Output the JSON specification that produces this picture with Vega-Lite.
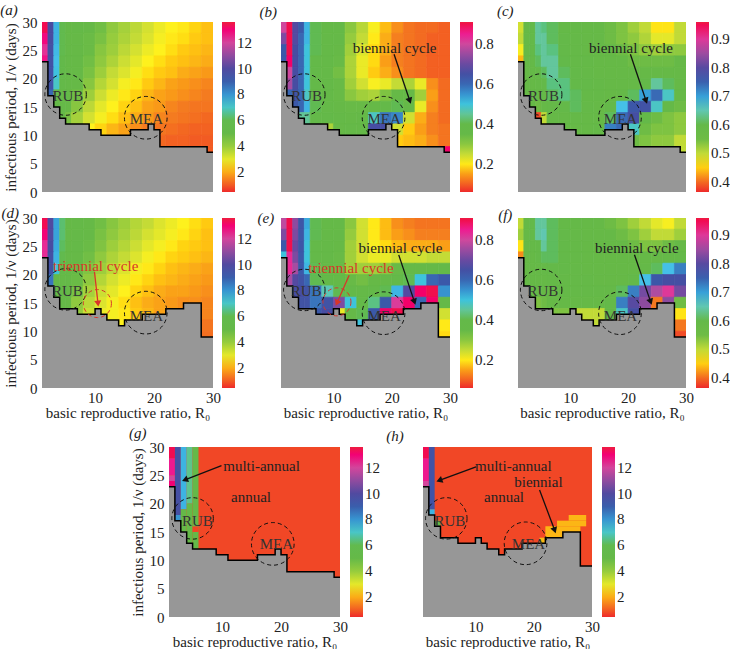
{"$schema":"https://vega.github.io/schema/vega-lite/v6.json","padding":{"top":3,"left":0,"right":0,"bottom":0},"background":"white",
"config":{"font":"Liberation Serif","view":{"stroke":null},"axis":{"ticks":false,"domain":false,"grid":false,"labelFont":"Liberation Serif","labelFontSize":15,"titleFont":"Liberation Serif","titleFontSize":15,"titleFontWeight":"normal","labelColor":"#222","titleColor":"#222","labelFlush":false,"labelOverlap":false,"labelBound":false,"labelPadding":5},"axisX":{"labelPadding":2,"titlePadding":0},"legend":{"labelFont":"Liberation Serif","labelFontSize":15,"labelColor":"#222"}},
"datasets":{
"bd1":[{"x":1,"y":23},{"x":2,"y":17},{"x":3,"y":15},{"x":4,"y":13},{"x":5,"y":12},{"x":9,"y":11},{"x":11,"y":10},{"x":16,"y":11},{"x":19,"y":12},{"x":20,"y":11},{"x":21,"y":8},{"x":29,"y":7},{"x":30,"y":7}],
"bd2":[{"x":1,"y":23},{"x":2,"y":18},{"x":3,"y":16},{"x":4,"y":14},{"x":7,"y":13},{"x":10,"y":14},{"x":11,"y":13},{"x":12,"y":12},{"x":14,"y":11},{"x":15,"y":12},{"x":18,"y":13},{"x":22,"y":14},{"x":25,"y":15},{"x":28,"y":9},{"x":30,"y":9}],
"g":[{"x":1,"e":30,"y":0,"t":30,"v":0.75},{"x":1,"e":2,"y":28,"t":30,"v":13.4},{"x":1,"e":2,"y":25,"t":28,"v":12.7},{"x":1,"e":2,"y":24,"t":25,"v":12},{"x":1,"e":2,"y":23,"t":24,"v":13},{"x":2,"e":3,"y":18,"t":30,"v":9.6},{"x":2,"e":3,"y":17,"t":18,"v":8},{"x":3,"e":4,"y":19,"t":30,"v":7.6},{"x":3,"e":4,"y":13,"t":19,"v":5},{"x":4,"e":5,"y":20,"t":30,"v":6.4},{"x":4,"e":5,"y":12,"t":20,"v":5},{"x":5,"e":6,"y":12,"t":30,"v":5},{"x":5,"e":6,"y":15,"t":16,"v":0.75}],
"h":[{"x":1,"e":30,"y":0,"t":30,"v":0.75},{"x":1,"e":2,"y":28,"t":30,"v":13.4},{"x":1,"e":2,"y":24,"t":28,"v":12.7},{"x":1,"e":2,"y":23,"t":24,"v":12},{"x":2,"e":3,"y":19,"t":30,"v":9.4},{"x":2,"e":3,"y":18,"t":19,"v":7.6},{"x":3,"e":4,"y":16,"t":17,"v":5},{"x":26,"e":29,"y":17,"t":18,"v":2.1},{"x":24,"e":29,"y":16,"t":17,"v":2.1},{"x":22,"e":28,"y":15,"t":16,"v":2.1},{"x":22,"e":25,"y":14,"t":15,"v":2.1},{"x":21,"e":22,"y":13,"t":14,"v":2.1}],
"ci":[{"p":"a","x":5,"y":17.2,"s":1720,"c":"#111"},{"p":"a","x":18.6,"y":13.1,"s":1820,"c":"#111"},{"p":"b","x":5,"y":17.2,"s":1720,"c":"#111"},{"p":"b","x":18.6,"y":13.1,"s":1820,"c":"#111"},{"p":"c","x":5,"y":17.2,"s":1720,"c":"#111"},{"p":"c","x":18.6,"y":13.1,"s":1820,"c":"#111"},{"p":"d","x":5,"y":17.4,"s":1720,"c":"#111"},{"p":"d","x":18.6,"y":13.3,"s":1820,"c":"#111"},{"p":"d","x":10.4,"y":14.9,"s":784,"c":"#d8352a"},{"p":"e","x":5,"y":17.3,"s":1720,"c":"#111"},{"p":"e","x":18.6,"y":13.2,"s":1820,"c":"#111"},{"p":"e","x":10.6,"y":15.2,"s":784,"c":"#d8352a"},{"p":"f","x":5,"y":17.3,"s":1720,"c":"#111"},{"p":"f","x":18.6,"y":13.2,"s":1820,"c":"#111"},{"p":"g","x":5,"y":17.4,"s":1720,"c":"#111"},{"p":"g","x":18.6,"y":12.9,"s":1820,"c":"#111"},{"p":"h","x":5,"y":17.4,"s":1720,"c":"#111"},{"p":"h","x":18.6,"y":13,"s":1820,"c":"#111"}],
"tx":[{"p":"a","x":5.4,"y":16.9,"t":"RUB","c":"#333"},{"p":"a","x":18.7,"y":12.8,"t":"MEA","c":"#333"},{"p":"b","x":5.4,"y":16.9,"t":"RUB","c":"#333"},{"p":"b","x":18.7,"y":12.8,"t":"MEA","c":"#333"},{"p":"b","x":20.5,"y":25.5,"t":"biennial cycle","c":"#222"},{"p":"c","x":5.4,"y":16.9,"t":"RUB","c":"#333"},{"p":"c","x":18.7,"y":12.8,"t":"MEA","c":"#333"},{"p":"c","x":20.5,"y":25.5,"t":"biennial cycle","c":"#222"},{"p":"d","x":5.3,"y":17.2,"t":"RUB","c":"#333"},{"p":"d","x":18.7,"y":12.7,"t":"MEA","c":"#333"},{"p":"d","x":10.1,"y":21.6,"t":"triennial cycle","c":"#d8352a"},{"p":"e","x":5.3,"y":17.2,"t":"RUB","c":"#333"},{"p":"e","x":18.7,"y":12.7,"t":"MEA","c":"#333"},{"p":"e","x":13,"y":21.2,"t":"triennial cycle","c":"#d8352a"},{"p":"e","x":21.5,"y":24.7,"t":"biennial cycle","c":"#222"},{"p":"f","x":5.3,"y":17.2,"t":"RUB","c":"#333"},{"p":"f","x":18.7,"y":12.7,"t":"MEA","c":"#333"},{"p":"f","x":21.5,"y":24.7,"t":"biennial cycle","c":"#222"},{"p":"g","x":5.8,"y":17,"t":"RUB","c":"#333"},{"p":"g","x":19.2,"y":12.8,"t":"MEA","c":"#333"},{"p":"g","x":16.7,"y":26.7,"t":"multi-annual","c":"#222"},{"p":"g","x":14.9,"y":21.2,"t":"annual","c":"#222"},{"p":"h","x":5.6,"y":17,"t":"RUB","c":"#333"},{"p":"h","x":19.1,"y":12.8,"t":"MEA","c":"#333"},{"p":"h","x":16.5,"y":26.6,"t":"multi-annual","c":"#222"},{"p":"h","x":14.9,"y":21.2,"t":"annual","c":"#222"},{"p":"h","x":20.8,"y":23.8,"t":"biennial","c":"#222"}],
"le":[{"p":"a","x":-4.6,"y":32.1,"t":"(a)"},{"p":"b","x":-1.2,"y":31.7,"t":"(b)"},{"p":"c","x":-1.2,"y":31.9,"t":"(c)"},{"p":"d","x":-4.4,"y":30.87,"t":"(d)"},{"p":"e","x":-1.6,"y":30,"t":"(e)"},{"p":"f","x":-1.2,"y":30.5,"t":"(f)"},{"p":"g","x":-4.3,"y":32.46,"t":"(g)"},{"p":"h","x":-3.8,"y":31.9,"t":"(h)"}],
"ar":[{"p":"b","x":20.4,"y":24.3,"xe":23.1,"ye":16.1,"c":"#111"},{"p":"c","x":20.4,"y":24.3,"xe":23.1,"ye":16.1,"c":"#111"},{"p":"d","x":9.9,"y":20.5,"xe":10.5,"ye":14.9,"c":"#d8352a"},{"p":"e","x":12.7,"y":19.9,"xe":10.6,"ye":15,"c":"#d8352a"},{"p":"e","x":21.2,"y":23.5,"xe":23.9,"ye":15.2,"c":"#111"},{"p":"f","x":21.1,"y":23.5,"xe":23.9,"ye":15.2,"c":"#111"},{"p":"g","x":9.9,"y":26.7,"xe":3.7,"ye":24.2,"c":"#111"},{"p":"h","x":10.1,"y":26.5,"xe":3.8,"ye":24.1,"c":"#111"},{"p":"h","x":21,"y":22.4,"xe":23.6,"ye":15.3,"c":"#111"}],
"hd":[{"p":"b","x":23.1,"y":16.1,"a":161,"c":"#111"},{"p":"c","x":23.1,"y":16.1,"a":161,"c":"#111"},{"p":"d","x":10.5,"y":14.9,"a":174,"c":"#d8352a"},{"p":"e","x":10.6,"y":15,"a":204,"c":"#d8352a"},{"p":"e","x":23.9,"y":15.2,"a":161,"c":"#111"},{"p":"f","x":23.9,"y":15.2,"a":161,"c":"#111"},{"p":"g","x":3.7,"y":24.2,"a":249,"c":"#111"},{"p":"h","x":3.8,"y":24.1,"a":250,"c":"#111"},{"p":"h","x":23.6,"y":15.3,"a":161,"c":"#111"}],
"ca":[{"x":1,"e":2,"y":29,"v":13.4},{"x":2,"e":3,"y":29,"v":9.8},{"x":3,"e":4,"y":29,"v":7.6},{"x":4,"e":5,"y":29,"v":6},{"x":5,"e":6,"y":29,"v":5.2},{"x":6,"e":8,"y":29,"v":4.9},{"x":8,"e":10,"y":29,"v":4.7},{"x":10,"e":12,"y":29,"v":4.5},{"x":12,"e":14,"y":29,"v":4.1},{"x":14,"e":16,"y":29,"v":3.8},{"x":16,"e":18,"y":29,"v":3.5},{"x":18,"e":20,"y":29,"v":3.2},{"x":20,"e":22,"y":29,"v":2.9},{"x":22,"e":24,"y":29,"v":2.7},{"x":24,"e":26,"y":29,"v":2.6},{"x":26,"e":28,"y":29,"v":2.4},{"x":28,"e":30,"y":29,"v":2.2},
{"x":1,"e":2,"y":27,"v":12.9},{"x":2,"e":3,"y":27,"v":9.8},{"x":3,"e":4,"y":27,"v":7.6},{"x":4,"e":5,"y":27,"v":6},{"x":5,"e":6,"y":27,"v":5.1},{"x":6,"e":8,"y":27,"v":4.8},{"x":8,"e":10,"y":27,"v":4.6},{"x":10,"e":12,"y":27,"v":4.4},{"x":12,"e":14,"y":27,"v":4},{"x":14,"e":16,"y":27,"v":3.7},{"x":16,"e":18,"y":27,"v":3.4},{"x":18,"e":20,"y":27,"v":3.1},{"x":20,"e":22,"y":27,"v":2.8},{"x":22,"e":24,"y":27,"v":2.6},{"x":24,"e":26,"y":27,"v":2.5},{"x":26,"e":28,"y":27,"v":2.3},{"x":28,"e":30,"y":27,"v":2.2},
{"x":1,"e":2,"y":25,"v":12.4},{"x":2,"e":3,"y":25,"v":9.6},{"x":3,"e":4,"y":25,"v":7.5},{"x":4,"e":5,"y":25,"v":6},{"x":5,"e":6,"y":25,"v":5.1},{"x":6,"e":8,"y":25,"v":4.8},{"x":8,"e":10,"y":25,"v":4.6},{"x":10,"e":12,"y":25,"v":4.2},{"x":12,"e":14,"y":25,"v":3.9},{"x":14,"e":16,"y":25,"v":3.5},{"x":16,"e":18,"y":25,"v":3.2},{"x":18,"e":20,"y":25,"v":2.9},{"x":20,"e":22,"y":25,"v":2.7},{"x":22,"e":24,"y":25,"v":2.5},{"x":24,"e":26,"y":25,"v":2.3},{"x":26,"e":28,"y":25,"v":2.2},{"x":28,"e":30,"y":25,"v":2.1},
{"x":1,"e":2,"y":23,"v":12.8},{"x":2,"e":3,"y":23,"v":9.5},{"x":3,"e":4,"y":23,"v":7.4},{"x":4,"e":5,"y":23,"v":5.9},{"x":5,"e":6,"y":23,"v":5},{"x":6,"e":8,"y":23,"v":4.8},{"x":8,"e":10,"y":23,"v":4.5},{"x":10,"e":12,"y":23,"v":4.1},{"x":12,"e":14,"y":23,"v":3.7},{"x":14,"e":16,"y":23,"v":3.3},{"x":16,"e":18,"y":23,"v":3},{"x":18,"e":20,"y":23,"v":2.7},{"x":20,"e":22,"y":23,"v":2.5},{"x":22,"e":24,"y":23,"v":2.3},{"x":24,"e":26,"y":23,"v":2.2},{"x":26,"e":28,"y":23,"v":2.1},{"x":28,"e":30,"y":23,"v":2},
{"x":2,"e":3,"y":21,"v":9.5},{"x":3,"e":4,"y":21,"v":7.3},{"x":4,"e":5,"y":21,"v":5.8},{"x":5,"e":6,"y":21,"v":5},{"x":6,"e":8,"y":21,"v":4.7},{"x":8,"e":10,"y":21,"v":4.4},{"x":10,"e":12,"y":21,"v":3.9},{"x":12,"e":14,"y":21,"v":3.4},{"x":14,"e":16,"y":21,"v":3.1},{"x":16,"e":18,"y":21,"v":2.8},{"x":18,"e":20,"y":21,"v":2.5},{"x":20,"e":22,"y":21,"v":2.3},{"x":22,"e":24,"y":21,"v":2.2},{"x":24,"e":26,"y":21,"v":2},{"x":26,"e":28,"y":21,"v":1.9},{"x":28,"e":30,"y":21,"v":1.8},
{"x":2,"e":3,"y":19,"v":9.4},{"x":3,"e":4,"y":19,"v":7},{"x":4,"e":5,"y":19,"v":5.5},{"x":5,"e":6,"y":19,"v":5},{"x":6,"e":8,"y":19,"v":4.7},{"x":8,"e":10,"y":19,"v":4.2},{"x":10,"e":12,"y":19,"v":3.6},{"x":12,"e":14,"y":19,"v":3.2},{"x":14,"e":16,"y":19,"v":2.8},{"x":16,"e":18,"y":19,"v":2.6},{"x":18,"e":20,"y":19,"v":2.3},{"x":20,"e":22,"y":19,"v":2.1},{"x":22,"e":24,"y":19,"v":1.9},{"x":24,"e":26,"y":19,"v":1.8},{"x":26,"e":28,"y":19,"v":1.7},{"x":28,"e":30,"y":19,"v":1.6},
{"x":2,"e":3,"y":17,"v":8.8},{"x":3,"e":4,"y":17,"v":5},{"x":4,"e":5,"y":17,"v":5},{"x":5,"e":6,"y":17,"v":4.9},{"x":6,"e":8,"y":17,"v":4.5},{"x":8,"e":10,"y":17,"v":3.9},{"x":10,"e":12,"y":17,"v":3.3},{"x":12,"e":14,"y":17,"v":2.9},{"x":14,"e":16,"y":17,"v":2.6},{"x":16,"e":18,"y":17,"v":2.4},{"x":18,"e":20,"y":17,"v":2.1},{"x":20,"e":22,"y":17,"v":1.9},{"x":22,"e":24,"y":17,"v":1.8},{"x":24,"e":26,"y":17,"v":1.7},{"x":26,"e":28,"y":17,"v":1.6},{"x":28,"e":30,"y":17,"v":1.5},
{"x":3,"e":4,"y":15,"v":5},{"x":4,"e":5,"y":15,"v":5},{"x":5,"e":6,"y":15,"v":4.8},{"x":6,"e":8,"y":15,"v":4.2},{"x":8,"e":10,"y":15,"v":3.5},{"x":10,"e":12,"y":15,"v":3},{"x":12,"e":14,"y":15,"v":2.7},{"x":14,"e":16,"y":15,"v":2.4},{"x":16,"e":18,"y":15,"v":2.2},{"x":18,"e":20,"y":15,"v":1.9},{"x":20,"e":22,"y":15,"v":1.8},{"x":22,"e":24,"y":15,"v":1.6},{"x":24,"e":26,"y":15,"v":1.5},{"x":26,"e":28,"y":15,"v":1.4},{"x":28,"e":30,"y":15,"v":1.4},
{"x":4,"e":5,"y":13,"v":4.9},{"x":5,"e":6,"y":13,"v":4.4},{"x":6,"e":8,"y":13,"v":3.8},{"x":8,"e":10,"y":13,"v":3.2},{"x":10,"e":12,"y":13,"v":2.8},{"x":12,"e":14,"y":13,"v":2.5},{"x":14,"e":16,"y":13,"v":2.2},{"x":16,"e":18,"y":13,"v":2},{"x":18,"e":20,"y":13,"v":1.8},{"x":20,"e":22,"y":13,"v":1.6},{"x":22,"e":24,"y":13,"v":1.5},{"x":24,"e":26,"y":13,"v":1.4},{"x":26,"e":28,"y":13,"v":1.3},{"x":28,"e":30,"y":13,"v":1.2},
{"x":8,"e":10,"y":11,"v":2.7},{"x":10,"e":12,"y":11,"v":2.4},{"x":12,"e":14,"y":11,"v":2.1},{"x":14,"e":16,"y":11,"v":1.9},{"x":16,"e":18,"y":11,"v":1.7},{"x":18,"e":20,"y":11,"v":1.5},{"x":20,"e":22,"y":11,"v":1.4},{"x":22,"e":24,"y":11,"v":1.3},{"x":24,"e":26,"y":11,"v":1.2},{"x":26,"e":28,"y":11,"v":1.1},{"x":28,"e":30,"y":11,"v":1.1},
{"x":20,"e":22,"y":9,"v":1.2},{"x":22,"e":24,"y":9,"v":1.1},{"x":24,"e":26,"y":9,"v":1.1},{"x":26,"e":28,"y":9,"v":1},{"x":28,"e":30,"y":9,"v":1},{"x":28,"e":30,"y":7,"v":1}],
"cd":[{"x":1,"e":2,"y":29,"v":13.4},{"x":2,"e":3,"y":29,"v":10},{"x":3,"e":4,"y":29,"v":7.8},{"x":4,"e":5,"y":29,"v":6.2},{"x":5,"e":6,"y":29,"v":5.2},{"x":6,"e":8,"y":29,"v":4.9},{"x":8,"e":10,"y":29,"v":4.7},{"x":10,"e":12,"y":29,"v":4.5},{"x":12,"e":14,"y":29,"v":4.2},{"x":14,"e":16,"y":29,"v":3.9},{"x":16,"e":18,"y":29,"v":3.6},{"x":18,"e":20,"y":29,"v":3.4},{"x":20,"e":22,"y":29,"v":3.1},{"x":22,"e":24,"y":29,"v":2.9},{"x":24,"e":26,"y":29,"v":2.7},{"x":26,"e":28,"y":29,"v":2.5},{"x":28,"e":30,"y":29,"v":2.3},
{"x":1,"e":2,"y":27,"v":13},{"x":2,"e":3,"y":27,"v":10},{"x":3,"e":4,"y":27,"v":7.8},{"x":4,"e":5,"y":27,"v":6.2},{"x":5,"e":6,"y":27,"v":5.2},{"x":6,"e":8,"y":27,"v":4.9},{"x":8,"e":10,"y":27,"v":4.7},{"x":10,"e":12,"y":27,"v":4.4},{"x":12,"e":14,"y":27,"v":4.1},{"x":14,"e":16,"y":27,"v":3.8},{"x":16,"e":18,"y":27,"v":3.5},{"x":18,"e":20,"y":27,"v":3.2},{"x":20,"e":22,"y":27,"v":3},{"x":22,"e":24,"y":27,"v":2.8},{"x":24,"e":26,"y":27,"v":2.6},{"x":26,"e":28,"y":27,"v":2.4},{"x":28,"e":30,"y":27,"v":2.2},
{"x":1,"e":2,"y":25,"v":12.5},{"x":2,"e":3,"y":25,"v":9.8},{"x":3,"e":4,"y":25,"v":7.7},{"x":4,"e":5,"y":25,"v":6.1},{"x":5,"e":6,"y":25,"v":5.1},{"x":6,"e":8,"y":25,"v":4.9},{"x":8,"e":10,"y":25,"v":4.6},{"x":10,"e":12,"y":25,"v":4.3},{"x":12,"e":14,"y":25,"v":3.9},{"x":14,"e":16,"y":25,"v":3.6},{"x":16,"e":18,"y":25,"v":3.3},{"x":18,"e":20,"y":25,"v":3},{"x":20,"e":22,"y":25,"v":2.8},{"x":22,"e":24,"y":25,"v":2.6},{"x":24,"e":26,"y":25,"v":2.4},{"x":26,"e":28,"y":25,"v":2.3},{"x":28,"e":30,"y":25,"v":2.2},
{"x":1,"e":2,"y":23,"v":12.5},{"x":2,"e":3,"y":23,"v":9.6},{"x":3,"e":4,"y":23,"v":7.6},{"x":4,"e":5,"y":23,"v":6},{"x":5,"e":6,"y":23,"v":5},{"x":6,"e":8,"y":23,"v":4.8},{"x":8,"e":10,"y":23,"v":4.5},{"x":10,"e":12,"y":23,"v":4.1},{"x":12,"e":14,"y":23,"v":3.7},{"x":14,"e":16,"y":23,"v":3.4},{"x":16,"e":18,"y":23,"v":3.1},{"x":18,"e":20,"y":23,"v":2.8},{"x":20,"e":22,"y":23,"v":2.6},{"x":22,"e":24,"y":23,"v":2.4},{"x":24,"e":26,"y":23,"v":2.3},{"x":26,"e":28,"y":23,"v":2.2},{"x":28,"e":30,"y":23,"v":2.1},
{"x":2,"e":3,"y":21,"v":9.5},{"x":3,"e":4,"y":21,"v":7.2},{"x":4,"e":5,"y":21,"v":5.8},{"x":5,"e":6,"y":21,"v":5},{"x":6,"e":8,"y":21,"v":4.7},{"x":8,"e":10,"y":21,"v":4.3},{"x":10,"e":12,"y":21,"v":3.9},{"x":12,"e":14,"y":21,"v":3.5},{"x":14,"e":16,"y":21,"v":3.1},{"x":16,"e":18,"y":21,"v":2.8},{"x":18,"e":20,"y":21,"v":2.6},{"x":20,"e":22,"y":21,"v":2.4},{"x":22,"e":24,"y":21,"v":2.2},{"x":24,"e":26,"y":21,"v":2.1},{"x":26,"e":28,"y":21,"v":2},{"x":28,"e":30,"y":21,"v":1.9},
{"x":2,"e":3,"y":19,"v":8.5},{"x":3,"e":4,"y":19,"v":5.2},{"x":4,"e":5,"y":19,"v":5},{"x":5,"e":6,"y":19,"v":5},{"x":6,"e":8,"y":19,"v":4.6},{"x":8,"e":10,"y":19,"v":4.1},{"x":10,"e":12,"y":19,"v":3.6},{"x":12,"e":14,"y":19,"v":3.2},{"x":14,"e":16,"y":19,"v":2.9},{"x":16,"e":18,"y":19,"v":2.6},{"x":18,"e":20,"y":19,"v":2.4},{"x":20,"e":22,"y":19,"v":2.2},{"x":22,"e":24,"y":19,"v":2.1},{"x":24,"e":26,"y":19,"v":2},{"x":26,"e":28,"y":19,"v":1.9},{"x":28,"e":30,"y":19,"v":1.8},
{"x":3,"e":4,"y":17,"v":5},{"x":4,"e":5,"y":17,"v":5},{"x":5,"e":6,"y":17,"v":4.9},{"x":6,"e":8,"y":17,"v":4.4},{"x":8,"e":10,"y":17,"v":3.8},{"x":10,"e":12,"y":17,"v":3.3},{"x":12,"e":14,"y":17,"v":3},{"x":14,"e":16,"y":17,"v":2.7},{"x":16,"e":18,"y":17,"v":2.4},{"x":18,"e":20,"y":17,"v":2.2},{"x":20,"e":22,"y":17,"v":2},{"x":22,"e":24,"y":17,"v":1.9},{"x":24,"e":26,"y":17,"v":1.9},{"x":26,"e":28,"y":17,"v":1.8},{"x":28,"e":30,"y":17,"v":1.7},
{"x":4,"e":5,"y":15,"v":5},{"x":5,"e":6,"y":15,"v":4.8},{"x":6,"e":8,"y":15,"v":4.1},{"x":8,"e":10,"y":15,"v":3.5},{"x":10,"e":12,"y":15,"v":3.1},{"x":12,"e":14,"y":15,"v":2.8},{"x":14,"e":16,"y":15,"v":2.5},{"x":16,"e":18,"y":15,"v":2.2},{"x":18,"e":20,"y":15,"v":2},{"x":20,"e":22,"y":15,"v":1.9},{"x":22,"e":24,"y":15,"v":1.8},{"x":24,"e":26,"y":15,"v":1.7},{"x":26,"e":28,"y":15,"v":1.7},{"x":28,"e":30,"y":15,"v":1.6},
{"x":6,"e":8,"y":13,"v":4},{"x":8,"e":10,"y":13,"v":3.3},{"x":10,"e":12,"y":13,"v":2.9},{"x":12,"e":14,"y":13,"v":2.8},{"x":14,"e":16,"y":13,"v":2.6},{"x":16,"e":18,"y":13,"v":2.3},{"x":18,"e":20,"y":13,"v":2.1},{"x":20,"e":22,"y":13,"v":1.9},{"x":28,"e":30,"y":13,"v":1.6},
{"x":12,"e":14,"y":11,"v":2.8},{"x":14,"e":16,"y":11,"v":2.7},{"x":28,"e":30,"y":11,"v":1.4},{"x":28,"e":30,"y":9,"v":1.3}],
"cb":[{"x":1,"e":2,"y":29,"v":0.8},{"x":2,"e":3,"y":29,"v":0.9},{"x":3,"e":4,"y":29,"v":0.68},{"x":4,"e":5,"y":29,"v":0.62},{"x":5,"e":6,"y":29,"v":0.52},{"x":6,"e":8,"y":29,"v":0.42},{"x":8,"e":10,"y":29,"v":0.37},{"x":10,"e":12,"y":29,"v":0.36},{"x":12,"e":14,"y":29,"v":0.3},{"x":14,"e":16,"y":29,"v":0.26},{"x":16,"e":18,"y":29,"v":0.21},{"x":18,"e":20,"y":29,"v":0.17},{"x":20,"e":22,"y":29,"v":0.14},{"x":22,"e":24,"y":29,"v":0.12},{"x":24,"e":26,"y":29,"v":0.11},{"x":26,"e":28,"y":29,"v":0.11},{"x":28,"e":30,"y":29,"v":0.1},
{"x":1,"e":2,"y":27,"v":0.72},{"x":2,"e":3,"y":27,"v":0.9},{"x":3,"e":4,"y":27,"v":0.68},{"x":4,"e":5,"y":27,"v":0.6},{"x":5,"e":6,"y":27,"v":0.52},{"x":6,"e":8,"y":27,"v":0.42},{"x":8,"e":10,"y":27,"v":0.37},{"x":10,"e":12,"y":27,"v":0.35},{"x":12,"e":14,"y":27,"v":0.29},{"x":14,"e":16,"y":27,"v":0.25},{"x":16,"e":18,"y":27,"v":0.2},{"x":18,"e":20,"y":27,"v":0.16},{"x":20,"e":22,"y":27,"v":0.13},{"x":22,"e":24,"y":27,"v":0.12},{"x":24,"e":26,"y":27,"v":0.11},{"x":26,"e":28,"y":27,"v":0.1},{"x":28,"e":30,"y":27,"v":0.1},
{"x":1,"e":2,"y":25,"v":0.62},{"x":2,"e":3,"y":25,"v":0.9},{"x":3,"e":4,"y":25,"v":0.66},{"x":4,"e":5,"y":25,"v":0.6},{"x":5,"e":6,"y":25,"v":0.5},{"x":6,"e":8,"y":25,"v":0.42},{"x":8,"e":10,"y":25,"v":0.37},{"x":10,"e":12,"y":25,"v":0.34},{"x":12,"e":14,"y":25,"v":0.28},{"x":14,"e":16,"y":25,"v":0.23},{"x":16,"e":18,"y":25,"v":0.19},{"x":18,"e":20,"y":25,"v":0.16},{"x":20,"e":22,"y":25,"v":0.13},{"x":22,"e":24,"y":25,"v":0.12},{"x":24,"e":26,"y":25,"v":0.11},{"x":26,"e":28,"y":25,"v":0.1},{"x":28,"e":30,"y":25,"v":0.1},
{"x":1,"e":2,"y":23,"v":0.62},{"x":2,"e":3,"y":23,"v":0.88},{"x":3,"e":4,"y":23,"v":0.66},{"x":4,"e":5,"y":23,"v":0.6},{"x":5,"e":6,"y":23,"v":0.5},{"x":6,"e":8,"y":23,"v":0.4},{"x":8,"e":10,"y":23,"v":0.36},{"x":10,"e":12,"y":23,"v":0.33},{"x":12,"e":14,"y":23,"v":0.27},{"x":14,"e":16,"y":23,"v":0.22},{"x":16,"e":18,"y":23,"v":0.19},{"x":18,"e":20,"y":23,"v":0.15},{"x":20,"e":22,"y":23,"v":0.13},{"x":22,"e":24,"y":23,"v":0.12},{"x":24,"e":26,"y":23,"v":0.11},{"x":26,"e":28,"y":23,"v":0.1},{"x":28,"e":30,"y":23,"v":0.1},
{"x":2,"e":3,"y":21,"v":0.8},{"x":3,"e":4,"y":21,"v":0.66},{"x":4,"e":5,"y":21,"v":0.6},{"x":5,"e":6,"y":21,"v":0.5},{"x":6,"e":8,"y":21,"v":0.4},{"x":8,"e":10,"y":21,"v":0.36},{"x":10,"e":12,"y":21,"v":0.32},{"x":12,"e":14,"y":21,"v":0.27},{"x":14,"e":16,"y":21,"v":0.22},{"x":16,"e":18,"y":21,"v":0.18},{"x":18,"e":20,"y":21,"v":0.16},{"x":20,"e":22,"y":21,"v":0.14},{"x":22,"e":24,"y":21,"v":0.12},{"x":24,"e":26,"y":21,"v":0.11},{"x":26,"e":28,"y":21,"v":0.1},{"x":28,"e":30,"y":21,"v":0.1},
{"x":2,"e":3,"y":19,"v":0.76},{"x":3,"e":4,"y":19,"v":0.66},{"x":4,"e":5,"y":19,"v":0.6},{"x":5,"e":6,"y":19,"v":0.5},{"x":6,"e":8,"y":19,"v":0.4},{"x":8,"e":10,"y":19,"v":0.36},{"x":10,"e":12,"y":19,"v":0.33},{"x":12,"e":14,"y":19,"v":0.28},{"x":14,"e":16,"y":19,"v":0.24},{"x":16,"e":18,"y":19,"v":0.21},{"x":18,"e":20,"y":19,"v":0.22},{"x":20,"e":22,"y":19,"v":0.25},{"x":22,"e":24,"y":19,"v":0.27},{"x":24,"e":26,"y":19,"v":0.22},{"x":26,"e":28,"y":19,"v":0.14},{"x":28,"e":30,"y":19,"v":0.11},
{"x":2,"e":3,"y":17,"v":0.6},{"x":3,"e":4,"y":17,"v":0.64},{"x":4,"e":5,"y":17,"v":0.6},{"x":5,"e":6,"y":17,"v":0.48},{"x":6,"e":8,"y":17,"v":0.4},{"x":8,"e":10,"y":17,"v":0.36},{"x":10,"e":12,"y":17,"v":0.33},{"x":12,"e":14,"y":17,"v":0.3},{"x":14,"e":16,"y":17,"v":0.28},{"x":16,"e":18,"y":17,"v":0.27},{"x":18,"e":20,"y":17,"v":0.31},{"x":20,"e":22,"y":17,"v":0.34},{"x":22,"e":24,"y":17,"v":0.34},{"x":24,"e":26,"y":17,"v":0.28},{"x":26,"e":28,"y":17,"v":0.15},{"x":28,"e":30,"y":17,"v":0.11},
{"x":3,"e":4,"y":15,"v":0.62},{"x":4,"e":5,"y":15,"v":0.6},{"x":5,"e":6,"y":15,"v":0.52},{"x":6,"e":8,"y":15,"v":0.42},{"x":8,"e":10,"y":15,"v":0.36},{"x":10,"e":12,"y":15,"v":0.34},{"x":12,"e":14,"y":15,"v":0.33},{"x":14,"e":16,"y":15,"v":0.33},{"x":16,"e":18,"y":15,"v":0.34},{"x":18,"e":20,"y":15,"v":0.38},{"x":20,"e":22,"y":15,"v":0.42},{"x":22,"e":24,"y":15,"v":0.37},{"x":24,"e":26,"y":15,"v":0.22},{"x":26,"e":28,"y":15,"v":0.14},{"x":28,"e":30,"y":15,"v":0.11},
{"x":4,"e":5,"y":13,"v":0.45},{"x":5,"e":6,"y":13,"v":0.45},{"x":6,"e":8,"y":13,"v":0.4},{"x":8,"e":10,"y":13,"v":0.38},{"x":10,"e":12,"y":13,"v":0.35},{"x":12,"e":14,"y":13,"v":0.34},{"x":14,"e":16,"y":13,"v":0.36},{"x":16,"e":18,"y":13,"v":0.48},{"x":18,"e":20,"y":13,"v":0.58},{"x":20,"e":22,"y":13,"v":0.56},{"x":22,"e":24,"y":13,"v":0.24},{"x":24,"e":26,"y":13,"v":0.16},{"x":26,"e":28,"y":13,"v":0.13},{"x":28,"e":30,"y":13,"v":0.11},
{"x":8,"e":10,"y":11,"v":0.27},{"x":10,"e":12,"y":11,"v":0.34},{"x":12,"e":14,"y":11,"v":0.36},{"x":14,"e":16,"y":11,"v":0.37},{"x":16,"e":18,"y":11,"v":0.66},{"x":18,"e":20,"y":11,"v":0.66},{"x":20,"e":22,"y":11,"v":0.24},{"x":22,"e":24,"y":11,"v":0.18},{"x":24,"e":26,"y":11,"v":0.15},{"x":26,"e":28,"y":11,"v":0.13},{"x":28,"e":30,"y":11,"v":0.12},
{"x":20,"e":22,"y":9,"v":0.18},{"x":22,"e":24,"y":9,"v":0.17},{"x":24,"e":26,"y":9,"v":0.16},{"x":26,"e":28,"y":9,"v":0.14},{"x":28,"e":30,"y":9,"v":0.12},{"x":28,"e":30,"y":7,"v":0.88}],
"cc":[{"x":1,"e":2,"y":29,"v":0.49},{"x":2,"e":3,"y":29,"v":0.56},{"x":3,"e":4,"y":29,"v":0.6},{"x":4,"e":5,"y":29,"v":0.64},{"x":5,"e":6,"y":29,"v":0.63},{"x":6,"e":8,"y":29,"v":0.62},{"x":8,"e":10,"y":29,"v":0.58},{"x":10,"e":12,"y":29,"v":0.57},{"x":12,"e":14,"y":29,"v":0.56},{"x":14,"e":16,"y":29,"v":0.56},{"x":16,"e":18,"y":29,"v":0.55},{"x":18,"e":20,"y":29,"v":0.54},{"x":20,"e":22,"y":29,"v":0.52},{"x":22,"e":24,"y":29,"v":0.5},{"x":24,"e":26,"y":29,"v":0.46},{"x":26,"e":28,"y":29,"v":0.46},{"x":28,"e":30,"y":29,"v":0.5},
{"x":1,"e":2,"y":27,"v":0.5},{"x":2,"e":3,"y":27,"v":0.56},{"x":3,"e":4,"y":27,"v":0.6},{"x":4,"e":5,"y":27,"v":0.64},{"x":5,"e":6,"y":27,"v":0.64},{"x":6,"e":8,"y":27,"v":0.62},{"x":8,"e":10,"y":27,"v":0.59},{"x":10,"e":12,"y":27,"v":0.57},{"x":12,"e":14,"y":27,"v":0.56},{"x":14,"e":16,"y":27,"v":0.56},{"x":16,"e":18,"y":27,"v":0.55},{"x":18,"e":20,"y":27,"v":0.54},{"x":20,"e":22,"y":27,"v":0.53},{"x":22,"e":24,"y":27,"v":0.51},{"x":24,"e":26,"y":27,"v":0.48},{"x":26,"e":28,"y":27,"v":0.48},{"x":28,"e":30,"y":27,"v":0.5},
{"x":1,"e":2,"y":25,"v":0.47},{"x":2,"e":3,"y":25,"v":0.56},{"x":3,"e":4,"y":25,"v":0.6},{"x":4,"e":5,"y":25,"v":0.63},{"x":5,"e":6,"y":25,"v":0.64},{"x":6,"e":8,"y":25,"v":0.63},{"x":8,"e":10,"y":25,"v":0.6},{"x":10,"e":12,"y":25,"v":0.57},{"x":12,"e":14,"y":25,"v":0.56},{"x":14,"e":16,"y":25,"v":0.56},{"x":16,"e":18,"y":25,"v":0.56},{"x":18,"e":20,"y":25,"v":0.55},{"x":20,"e":22,"y":25,"v":0.54},{"x":22,"e":24,"y":25,"v":0.53},{"x":24,"e":26,"y":25,"v":0.52},{"x":26,"e":28,"y":25,"v":0.53},{"x":28,"e":30,"y":25,"v":0.53},
{"x":1,"e":2,"y":23,"v":0.44},{"x":2,"e":3,"y":23,"v":0.56},{"x":3,"e":4,"y":23,"v":0.58},{"x":4,"e":5,"y":23,"v":0.62},{"x":5,"e":6,"y":23,"v":0.64},{"x":6,"e":8,"y":23,"v":0.64},{"x":8,"e":10,"y":23,"v":0.61},{"x":10,"e":12,"y":23,"v":0.58},{"x":12,"e":14,"y":23,"v":0.57},{"x":14,"e":16,"y":23,"v":0.56},{"x":16,"e":18,"y":23,"v":0.56},{"x":18,"e":20,"y":23,"v":0.56},{"x":20,"e":22,"y":23,"v":0.55},{"x":22,"e":24,"y":23,"v":0.55},{"x":24,"e":26,"y":23,"v":0.55},{"x":26,"e":28,"y":23,"v":0.55},{"x":28,"e":30,"y":23,"v":0.56},
{"x":2,"e":3,"y":21,"v":0.56},{"x":3,"e":4,"y":21,"v":0.58},{"x":4,"e":5,"y":21,"v":0.6},{"x":5,"e":6,"y":21,"v":0.62},{"x":6,"e":8,"y":21,"v":0.64},{"x":8,"e":10,"y":21,"v":0.62},{"x":10,"e":12,"y":21,"v":0.59},{"x":12,"e":14,"y":21,"v":0.58},{"x":14,"e":16,"y":21,"v":0.56},{"x":16,"e":18,"y":21,"v":0.56},{"x":18,"e":20,"y":21,"v":0.56},{"x":20,"e":22,"y":21,"v":0.56},{"x":22,"e":24,"y":21,"v":0.56},{"x":24,"e":26,"y":21,"v":0.56},{"x":26,"e":28,"y":21,"v":0.56},{"x":28,"e":30,"y":21,"v":0.56},
{"x":2,"e":3,"y":19,"v":0.56},{"x":3,"e":4,"y":19,"v":0.56},{"x":4,"e":5,"y":19,"v":0.58},{"x":5,"e":6,"y":19,"v":0.6},{"x":6,"e":8,"y":19,"v":0.63},{"x":8,"e":10,"y":19,"v":0.63},{"x":10,"e":12,"y":19,"v":0.6},{"x":12,"e":14,"y":19,"v":0.6},{"x":14,"e":16,"y":19,"v":0.58},{"x":16,"e":18,"y":19,"v":0.56},{"x":18,"e":20,"y":19,"v":0.56},{"x":20,"e":22,"y":19,"v":0.56},{"x":22,"e":24,"y":19,"v":0.6},{"x":24,"e":26,"y":19,"v":0.64},{"x":26,"e":28,"y":19,"v":0.62},{"x":28,"e":30,"y":19,"v":0.56},
{"x":2,"e":3,"y":17,"v":0.56},{"x":3,"e":4,"y":17,"v":0.56},{"x":4,"e":5,"y":17,"v":0.56},{"x":5,"e":6,"y":17,"v":0.58},{"x":6,"e":8,"y":17,"v":0.62},{"x":8,"e":10,"y":17,"v":0.63},{"x":10,"e":12,"y":17,"v":0.62},{"x":12,"e":14,"y":17,"v":0.58},{"x":14,"e":16,"y":17,"v":0.57},{"x":16,"e":18,"y":17,"v":0.56},{"x":18,"e":20,"y":17,"v":0.58},{"x":20,"e":22,"y":17,"v":0.62},{"x":22,"e":24,"y":17,"v":0.7},{"x":24,"e":26,"y":17,"v":0.74},{"x":26,"e":28,"y":17,"v":0.66},{"x":28,"e":30,"y":17,"v":0.56},
{"x":3,"e":4,"y":15,"v":0.56},{"x":4,"e":5,"y":15,"v":0.55},{"x":5,"e":6,"y":15,"v":0.56},{"x":6,"e":8,"y":15,"v":0.58},{"x":8,"e":10,"y":15,"v":0.6},{"x":10,"e":12,"y":15,"v":0.62},{"x":12,"e":14,"y":15,"v":0.58},{"x":14,"e":16,"y":15,"v":0.56},{"x":16,"e":18,"y":15,"v":0.6},{"x":18,"e":20,"y":15,"v":0.68},{"x":20,"e":22,"y":15,"v":0.76},{"x":22,"e":24,"y":15,"v":0.77},{"x":24,"e":26,"y":15,"v":0.66},{"x":26,"e":28,"y":15,"v":0.57},{"x":28,"e":30,"y":15,"v":0.55},
{"x":4,"e":5,"y":13,"v":0.38},{"x":5,"e":6,"y":13,"v":0.5},{"x":6,"e":8,"y":13,"v":0.56},{"x":8,"e":10,"y":13,"v":0.56},{"x":10,"e":12,"y":13,"v":0.57},{"x":12,"e":14,"y":13,"v":0.56},{"x":14,"e":16,"y":13,"v":0.56},{"x":16,"e":18,"y":13,"v":0.62},{"x":18,"e":20,"y":13,"v":0.74},{"x":20,"e":22,"y":13,"v":0.78},{"x":22,"e":24,"y":13,"v":0.6},{"x":24,"e":26,"y":13,"v":0.55},{"x":26,"e":28,"y":13,"v":0.54},{"x":28,"e":30,"y":13,"v":0.53},
{"x":8,"e":10,"y":11,"v":0.56},{"x":10,"e":12,"y":11,"v":0.56},{"x":12,"e":14,"y":11,"v":0.56},{"x":14,"e":16,"y":11,"v":0.58},{"x":16,"e":18,"y":11,"v":0.72},{"x":18,"e":20,"y":11,"v":0.74},{"x":20,"e":22,"y":11,"v":0.66},{"x":22,"e":24,"y":11,"v":0.55},{"x":24,"e":26,"y":11,"v":0.54},{"x":26,"e":28,"y":11,"v":0.54},{"x":28,"e":30,"y":11,"v":0.53},
{"x":20,"e":22,"y":9,"v":0.55},{"x":22,"e":24,"y":9,"v":0.54},{"x":24,"e":26,"y":9,"v":0.53},{"x":26,"e":28,"y":9,"v":0.53},{"x":28,"e":30,"y":9,"v":0.5},{"x":28,"e":30,"y":7,"v":0.5}],
"ce":[{"x":1,"e":2,"y":29,"v":0.78},{"x":2,"e":3,"y":29,"v":0.9},{"x":3,"e":4,"y":29,"v":0.74},{"x":4,"e":5,"y":29,"v":0.63},{"x":5,"e":6,"y":29,"v":0.53},{"x":6,"e":8,"y":29,"v":0.42},{"x":8,"e":10,"y":29,"v":0.37},{"x":10,"e":12,"y":29,"v":0.35},{"x":12,"e":14,"y":29,"v":0.3},{"x":14,"e":16,"y":29,"v":0.24},{"x":16,"e":18,"y":29,"v":0.2},{"x":18,"e":20,"y":29,"v":0.17},{"x":20,"e":22,"y":29,"v":0.14},{"x":22,"e":24,"y":29,"v":0.13},{"x":24,"e":26,"y":29,"v":0.12},{"x":26,"e":28,"y":29,"v":0.12},{"x":28,"e":30,"y":29,"v":0.12},
{"x":1,"e":2,"y":27,"v":0.72},{"x":2,"e":3,"y":27,"v":0.9},{"x":3,"e":4,"y":27,"v":0.72},{"x":4,"e":5,"y":27,"v":0.63},{"x":5,"e":6,"y":27,"v":0.52},{"x":6,"e":8,"y":27,"v":0.42},{"x":8,"e":10,"y":27,"v":0.37},{"x":10,"e":12,"y":27,"v":0.35},{"x":12,"e":14,"y":27,"v":0.29},{"x":14,"e":16,"y":27,"v":0.24},{"x":16,"e":18,"y":27,"v":0.2},{"x":18,"e":20,"y":27,"v":0.17},{"x":20,"e":22,"y":27,"v":0.15},{"x":22,"e":24,"y":27,"v":0.14},{"x":24,"e":26,"y":27,"v":0.13},{"x":26,"e":28,"y":27,"v":0.13},{"x":28,"e":30,"y":27,"v":0.13},
{"x":1,"e":2,"y":25,"v":0.62},{"x":2,"e":3,"y":25,"v":0.9},{"x":3,"e":4,"y":25,"v":0.7},{"x":4,"e":5,"y":25,"v":0.63},{"x":5,"e":6,"y":25,"v":0.5},{"x":6,"e":8,"y":25,"v":0.4},{"x":8,"e":10,"y":25,"v":0.37},{"x":10,"e":12,"y":25,"v":0.34},{"x":12,"e":14,"y":25,"v":0.28},{"x":14,"e":16,"y":25,"v":0.24},{"x":16,"e":18,"y":25,"v":0.21},{"x":18,"e":20,"y":25,"v":0.19},{"x":20,"e":22,"y":25,"v":0.17},{"x":22,"e":24,"y":25,"v":0.16},{"x":24,"e":26,"y":25,"v":0.16},{"x":26,"e":28,"y":25,"v":0.16},{"x":28,"e":30,"y":25,"v":0.15},
{"x":1,"e":2,"y":23,"v":0.5},{"x":2,"e":3,"y":23,"v":0.84},{"x":3,"e":4,"y":23,"v":0.72},{"x":4,"e":5,"y":23,"v":0.62},{"x":5,"e":6,"y":23,"v":0.5},{"x":6,"e":8,"y":23,"v":0.4},{"x":8,"e":10,"y":23,"v":0.36},{"x":10,"e":12,"y":23,"v":0.33},{"x":12,"e":14,"y":23,"v":0.28},{"x":14,"e":16,"y":23,"v":0.24},{"x":16,"e":18,"y":23,"v":0.22},{"x":18,"e":20,"y":23,"v":0.22},{"x":20,"e":22,"y":23,"v":0.24},{"x":22,"e":24,"y":23,"v":0.24},{"x":24,"e":26,"y":23,"v":0.24},{"x":26,"e":28,"y":23,"v":0.25},{"x":28,"e":30,"y":23,"v":0.25},
{"x":2,"e":3,"y":21,"v":0.84},{"x":3,"e":4,"y":21,"v":0.76},{"x":4,"e":5,"y":21,"v":0.62},{"x":5,"e":6,"y":21,"v":0.52},{"x":6,"e":8,"y":21,"v":0.42},{"x":8,"e":10,"y":21,"v":0.37},{"x":10,"e":12,"y":21,"v":0.33},{"x":12,"e":14,"y":21,"v":0.28},{"x":14,"e":16,"y":21,"v":0.28},{"x":16,"e":18,"y":21,"v":0.28},{"x":18,"e":20,"y":21,"v":0.3},{"x":20,"e":22,"y":21,"v":0.33},{"x":22,"e":24,"y":21,"v":0.35},{"x":24,"e":26,"y":21,"v":0.36},{"x":26,"e":28,"y":21,"v":0.37},{"x":28,"e":30,"y":21,"v":0.38},
{"x":2,"e":3,"y":19,"v":0.76},{"x":3,"e":4,"y":19,"v":0.68},{"x":4,"e":5,"y":19,"v":0.64},{"x":5,"e":6,"y":19,"v":0.6},{"x":6,"e":8,"y":19,"v":0.42},{"x":8,"e":10,"y":19,"v":0.38},{"x":10,"e":12,"y":19,"v":0.36},{"x":12,"e":14,"y":19,"v":0.33},{"x":14,"e":16,"y":19,"v":0.32},{"x":16,"e":18,"y":19,"v":0.34},{"x":18,"e":20,"y":19,"v":0.36},{"x":20,"e":22,"y":19,"v":0.38},{"x":22,"e":24,"y":19,"v":0.42},{"x":24,"e":26,"y":19,"v":0.5},{"x":26,"e":28,"y":19,"v":0.6},{"x":28,"e":30,"y":19,"v":0.62},
{"x":3,"e":4,"y":17,"v":0.66},{"x":4,"e":5,"y":17,"v":0.66},{"x":5,"e":6,"y":17,"v":0.64},{"x":6,"e":8,"y":17,"v":0.58},{"x":8,"e":10,"y":17,"v":0.47},{"x":10,"e":12,"y":17,"v":0.42},{"x":12,"e":14,"y":17,"v":0.38},{"x":14,"e":16,"y":17,"v":0.36},{"x":16,"e":18,"y":17,"v":0.38},{"x":18,"e":20,"y":17,"v":0.42},{"x":20,"e":22,"y":17,"v":0.52},{"x":22,"e":24,"y":17,"v":0.68},{"x":24,"e":26,"y":17,"v":0.88},{"x":26,"e":28,"y":17,"v":0.9},{"x":28,"e":30,"y":17,"v":0.55},
{"x":4,"e":5,"y":15,"v":0.64},{"x":5,"e":6,"y":15,"v":0.64},{"x":6,"e":8,"y":15,"v":0.58},{"x":8,"e":10,"y":15,"v":0.64},{"x":10,"e":12,"y":15,"v":0.72},{"x":12,"e":14,"y":15,"v":0.5},{"x":14,"e":16,"y":15,"v":0.38},{"x":16,"e":18,"y":15,"v":0.44},{"x":18,"e":20,"y":15,"v":0.62},{"x":20,"e":22,"y":15,"v":0.82},{"x":22,"e":24,"y":15,"v":0.88},{"x":24,"e":26,"y":15,"v":0.6},{"x":26,"e":28,"y":15,"v":0.88},{"x":28,"e":30,"y":15,"v":0.36},
{"x":6,"e":8,"y":13,"v":0.62},{"x":8,"e":10,"y":13,"v":0.66},{"x":10,"e":12,"y":13,"v":0.22},{"x":12,"e":14,"y":13,"v":0.37},{"x":14,"e":16,"y":13,"v":0.42},{"x":16,"e":18,"y":13,"v":0.62},{"x":18,"e":20,"y":13,"v":0.88},{"x":20,"e":22,"y":13,"v":0.9},{"x":28,"e":30,"y":13,"v":0.24},
{"x":12,"e":14,"y":11,"v":0.38},{"x":14,"e":16,"y":11,"v":0.5},{"x":16,"e":18,"y":11,"v":0.6},{"x":18,"e":20,"y":11,"v":0.7},{"x":28,"e":30,"y":11,"v":0.2},{"x":28,"e":30,"y":9,"v":0.19}],
"cf":[{"x":1,"e":2,"y":29,"v":0.5},{"x":2,"e":3,"y":29,"v":0.56},{"x":3,"e":4,"y":29,"v":0.6},{"x":4,"e":5,"y":29,"v":0.64},{"x":5,"e":6,"y":29,"v":0.64},{"x":6,"e":8,"y":29,"v":0.62},{"x":8,"e":10,"y":29,"v":0.58},{"x":10,"e":12,"y":29,"v":0.57},{"x":12,"e":14,"y":29,"v":0.56},{"x":14,"e":16,"y":29,"v":0.56},{"x":16,"e":18,"y":29,"v":0.55},{"x":18,"e":20,"y":29,"v":0.54},{"x":20,"e":22,"y":29,"v":0.52},{"x":22,"e":24,"y":29,"v":0.5},{"x":24,"e":26,"y":29,"v":0.48},{"x":26,"e":28,"y":29,"v":0.47},{"x":28,"e":30,"y":29,"v":0.5},
{"x":1,"e":2,"y":27,"v":0.52},{"x":2,"e":3,"y":27,"v":0.56},{"x":3,"e":4,"y":27,"v":0.6},{"x":4,"e":5,"y":27,"v":0.64},{"x":5,"e":6,"y":27,"v":0.65},{"x":6,"e":8,"y":27,"v":0.62},{"x":8,"e":10,"y":27,"v":0.59},{"x":10,"e":12,"y":27,"v":0.57},{"x":12,"e":14,"y":27,"v":0.56},{"x":14,"e":16,"y":27,"v":0.56},{"x":16,"e":18,"y":27,"v":0.56},{"x":18,"e":20,"y":27,"v":0.55},{"x":20,"e":22,"y":27,"v":0.54},{"x":22,"e":24,"y":27,"v":0.52},{"x":24,"e":26,"y":27,"v":0.5},{"x":26,"e":28,"y":27,"v":0.5},{"x":28,"e":30,"y":27,"v":0.52},
{"x":1,"e":2,"y":25,"v":0.46},{"x":2,"e":3,"y":25,"v":0.56},{"x":3,"e":4,"y":25,"v":0.58},{"x":4,"e":5,"y":25,"v":0.6},{"x":5,"e":6,"y":25,"v":0.64},{"x":6,"e":8,"y":25,"v":0.62},{"x":8,"e":10,"y":25,"v":0.6},{"x":10,"e":12,"y":25,"v":0.57},{"x":12,"e":14,"y":25,"v":0.56},{"x":14,"e":16,"y":25,"v":0.56},{"x":16,"e":18,"y":25,"v":0.56},{"x":18,"e":20,"y":25,"v":0.56},{"x":20,"e":22,"y":25,"v":0.55},{"x":22,"e":24,"y":25,"v":0.54},{"x":24,"e":26,"y":25,"v":0.54},{"x":26,"e":28,"y":25,"v":0.55},{"x":28,"e":30,"y":25,"v":0.56},
{"x":1,"e":2,"y":23,"v":0.42},{"x":2,"e":3,"y":23,"v":0.56},{"x":3,"e":4,"y":23,"v":0.56},{"x":4,"e":5,"y":23,"v":0.6},{"x":5,"e":6,"y":23,"v":0.62},{"x":6,"e":8,"y":23,"v":0.62},{"x":8,"e":10,"y":23,"v":0.6},{"x":10,"e":12,"y":23,"v":0.57},{"x":12,"e":14,"y":23,"v":0.56},{"x":14,"e":16,"y":23,"v":0.56},{"x":16,"e":18,"y":23,"v":0.56},{"x":18,"e":20,"y":23,"v":0.56},{"x":20,"e":22,"y":23,"v":0.56},{"x":22,"e":24,"y":23,"v":0.56},{"x":24,"e":26,"y":23,"v":0.56},{"x":26,"e":28,"y":23,"v":0.57},{"x":28,"e":30,"y":23,"v":0.6},
{"x":2,"e":3,"y":21,"v":0.56},{"x":3,"e":4,"y":21,"v":0.56},{"x":4,"e":5,"y":21,"v":0.56},{"x":5,"e":6,"y":21,"v":0.58},{"x":6,"e":8,"y":21,"v":0.6},{"x":8,"e":10,"y":21,"v":0.6},{"x":10,"e":12,"y":21,"v":0.58},{"x":12,"e":14,"y":21,"v":0.56},{"x":14,"e":16,"y":21,"v":0.56},{"x":16,"e":18,"y":21,"v":0.56},{"x":18,"e":20,"y":21,"v":0.56},{"x":20,"e":22,"y":21,"v":0.56},{"x":22,"e":24,"y":21,"v":0.58},{"x":24,"e":26,"y":21,"v":0.62},{"x":26,"e":28,"y":21,"v":0.68},{"x":28,"e":30,"y":21,"v":0.72},
{"x":2,"e":3,"y":19,"v":0.56},{"x":3,"e":4,"y":19,"v":0.56},{"x":4,"e":5,"y":19,"v":0.56},{"x":5,"e":6,"y":19,"v":0.56},{"x":6,"e":8,"y":19,"v":0.58},{"x":8,"e":10,"y":19,"v":0.58},{"x":10,"e":12,"y":19,"v":0.58},{"x":12,"e":14,"y":19,"v":0.58},{"x":14,"e":16,"y":19,"v":0.56},{"x":16,"e":18,"y":19,"v":0.56},{"x":18,"e":20,"y":19,"v":0.56},{"x":20,"e":22,"y":19,"v":0.6},{"x":22,"e":24,"y":19,"v":0.68},{"x":24,"e":26,"y":19,"v":0.76},{"x":26,"e":28,"y":19,"v":0.78},{"x":28,"e":30,"y":19,"v":0.78},
{"x":3,"e":4,"y":17,"v":0.56},{"x":4,"e":5,"y":17,"v":0.56},{"x":5,"e":6,"y":17,"v":0.56},{"x":6,"e":8,"y":17,"v":0.56},{"x":8,"e":10,"y":17,"v":0.58},{"x":10,"e":12,"y":17,"v":0.58},{"x":12,"e":14,"y":17,"v":0.58},{"x":14,"e":16,"y":17,"v":0.57},{"x":16,"e":18,"y":17,"v":0.58},{"x":18,"e":20,"y":17,"v":0.62},{"x":20,"e":22,"y":17,"v":0.72},{"x":22,"e":24,"y":17,"v":0.82},{"x":24,"e":26,"y":17,"v":0.86},{"x":26,"e":28,"y":17,"v":0.9},{"x":28,"e":30,"y":17,"v":0.82},
{"x":4,"e":5,"y":15,"v":0.54},{"x":5,"e":6,"y":15,"v":0.55},{"x":6,"e":8,"y":15,"v":0.56},{"x":8,"e":10,"y":15,"v":0.56},{"x":10,"e":12,"y":15,"v":0.56},{"x":12,"e":14,"y":15,"v":0.56},{"x":14,"e":16,"y":15,"v":0.56},{"x":16,"e":18,"y":15,"v":0.6},{"x":18,"e":20,"y":15,"v":0.72},{"x":20,"e":22,"y":15,"v":0.8},{"x":22,"e":24,"y":15,"v":0.84},{"x":24,"e":26,"y":15,"v":0.41},{"x":26,"e":28,"y":15,"v":0.84},{"x":28,"e":30,"y":15,"v":0.55},
{"x":6,"e":8,"y":13,"v":0.54},{"x":8,"e":10,"y":13,"v":0.54},{"x":10,"e":12,"y":13,"v":0.5},{"x":12,"e":14,"y":13,"v":0.5},{"x":14,"e":16,"y":13,"v":0.5},{"x":16,"e":18,"y":13,"v":0.58},{"x":18,"e":20,"y":13,"v":0.66},{"x":20,"e":22,"y":13,"v":0.78},{"x":28,"e":30,"y":13,"v":0.46},
{"x":12,"e":14,"y":11,"v":0.47},{"x":14,"e":16,"y":11,"v":0.5},{"x":16,"e":18,"y":11,"v":0.55},{"x":18,"e":20,"y":11,"v":0.58},{"x":28,"e":30,"y":11,"v":0.41},{"x":28,"e":30,"y":9,"v":0.38}]
},
"vconcat":[
{"hconcat":[
{"width":171,"height":170,"encoding":{"x":{"field":"x","type":"quantitative","scale":{"domain":[1,30],"nice":false},"axis":null},"y":{"field":"y","type":"quantitative","scale":{"domain":[0,30],"nice":false},"axis":{"title":"infectious period, 1/ν (days)","values":[0,5,10,15,20,25,30]}}},"layer":[
{"data":{"name":"ca"},"mark":{"type":"rect","height":11.6,"clip":true,"strokeWidth":0.7},"encoding":{"x2":{"field":"e"},"stroke":{"field":"v","type":"quantitative","legend":null,"scale":{"domain":[0.46,1.51,2.04,2.69,3.35,4.66,5.98,6.64,7.42,8.34,9.13,9.92,10.97,11.76,12.68,13.6],"range":["#ee2a2b","#f47c20","#fbb017","#fff11d","#c8dc36","#66b947","#63b94a","#6cc7a8","#45c0e8","#3a7cc0","#3b58a8","#4b4aa0","#8e4b9f","#c94d9e","#ee1b91","#ee1c3f"]}},"color":{"field":"v","type":"quantitative","scale":{"domain":[0.46,1.51,2.04,2.69,3.35,4.66,5.98,6.64,7.42,8.34,9.13,9.92,10.97,11.76,12.68,13.6],"range":["#ee2a2b","#f47c20","#fbb017","#fff11d","#c8dc36","#66b947","#63b94a","#6cc7a8","#45c0e8","#3a7cc0","#3b58a8","#4b4aa0","#8e4b9f","#c94d9e","#ee1b91","#ee1c3f"]},"legend":{"type":"gradient","title":null,"values":[2,4,6,8,10,12],"gradientLength":170,"gradientThickness":13,"offset":9,"labelOverlap":false}}}},
{"data":{"name":"bd1"},"mark":{"type":"area","interpolate":"step-after","color":"#979797"}},
{"data":{"name":"bd1"},"mark":{"type":"line","interpolate":"step-after","color":"#000","strokeWidth":1.5}},
{"data":{"name":"ci"},"transform":[{"filter":"datum.p=='a'"}],"mark":{"type":"point","filled":false,"strokeWidth":1,"strokeDash":[4,3],"opacity":1},"encoding":{"size":{"field":"s","type":"quantitative","scale":null},"stroke":{"field":"c","type":"nominal","scale":null}}},
{"data":{"name":"tx"},"transform":[{"filter":"datum.p=='a'"}],"mark":{"type":"text","fontSize":15,"font":"Liberation Serif"},"encoding":{"text":{"field":"t"},"fill":{"field":"c","type":"nominal","scale":null}}},
{"data":{"name":"le"},"transform":[{"filter":"datum.p=='a'"}],"mark":{"type":"text","fontSize":15,"fontStyle":"italic","font":"Liberation Serif","color":"#222"},"encoding":{"text":{"field":"t"}}}
],"resolve":{"scale":{"stroke":"independent"}}},
{"width":169,"height":170,"encoding":{"x":{"field":"x","type":"quantitative","scale":{"domain":[1,30],"nice":false},"axis":null},"y":{"field":"y","type":"quantitative","scale":{"domain":[0,30],"nice":false},"axis":null}},"layer":[
{"data":{"name":"cb"},"mark":{"type":"rect","height":11.6,"clip":true,"strokeWidth":0.7},"encoding":{"x2":{"field":"e"},"stroke":{"field":"v","type":"quantitative","legend":null,"scale":{"domain":[0.06,0.128,0.162,0.205,0.247,0.332,0.417,0.46,0.51,0.57,0.621,0.672,0.74,0.791,0.851,0.91],"range":["#ee2a2b","#f47c20","#fbb017","#fff11d","#c8dc36","#66b947","#63b94a","#6cc7a8","#45c0e8","#3a7cc0","#3b58a8","#4b4aa0","#8e4b9f","#c94d9e","#ee1b91","#ee1c3f"]}},"color":{"field":"v","type":"quantitative","scale":{"domain":[0.06,0.128,0.162,0.205,0.247,0.332,0.417,0.46,0.51,0.57,0.621,0.672,0.74,0.791,0.851,0.91],"range":["#ee2a2b","#f47c20","#fbb017","#fff11d","#c8dc36","#66b947","#63b94a","#6cc7a8","#45c0e8","#3a7cc0","#3b58a8","#4b4aa0","#8e4b9f","#c94d9e","#ee1b91","#ee1c3f"]},"legend":{"type":"gradient","title":null,"values":[0.2,0.4,0.6,0.8],"gradientLength":170,"gradientThickness":13,"offset":10,"labelOverlap":false}}}},
{"data":{"name":"bd1"},"mark":{"type":"area","interpolate":"step-after","color":"#979797"}},
{"data":{"name":"bd1"},"mark":{"type":"line","interpolate":"step-after","color":"#000","strokeWidth":1.5}},
{"data":{"name":"ci"},"transform":[{"filter":"datum.p=='b'"}],"mark":{"type":"point","filled":false,"strokeWidth":1,"strokeDash":[4,3],"opacity":1},"encoding":{"size":{"field":"s","type":"quantitative","scale":null},"stroke":{"field":"c","type":"nominal","scale":null}}},
{"data":{"name":"ar"},"transform":[{"filter":"datum.p=='b'"}],"mark":{"type":"rule","strokeWidth":1.3},"encoding":{"x2":{"field":"xe"},"y2":{"field":"ye"},"stroke":{"field":"c","type":"nominal","scale":null}}},
{"data":{"name":"hd"},"transform":[{"filter":"datum.p=='b'"}],"mark":{"type":"point","shape":"triangle-up","filled":true,"opacity":1,"size":50},"encoding":{"angle":{"field":"a","type":"quantitative","scale":null},"fill":{"field":"c","type":"nominal","scale":null}}},
{"data":{"name":"tx"},"transform":[{"filter":"datum.p=='b'"}],"mark":{"type":"text","fontSize":15,"font":"Liberation Serif"},"encoding":{"text":{"field":"t"},"fill":{"field":"c","type":"nominal","scale":null}}},
{"data":{"name":"le"},"transform":[{"filter":"datum.p=='b'"}],"mark":{"type":"text","fontSize":15,"fontStyle":"italic","font":"Liberation Serif","color":"#222"},"encoding":{"text":{"field":"t"}}}
],"resolve":{"scale":{"stroke":"independent"}}},
{"width":168,"height":170,"encoding":{"x":{"field":"x","type":"quantitative","scale":{"domain":[1,30],"nice":false},"axis":null},"y":{"field":"y","type":"quantitative","scale":{"domain":[0,30],"nice":false},"axis":null}},"layer":[
{"data":{"name":"cc"},"mark":{"type":"rect","height":11.6,"clip":true,"strokeWidth":0.7},"encoding":{"x2":{"field":"e"},"stroke":{"field":"v","type":"quantitative","legend":null,"scale":{"domain":[0.365,0.413,0.436,0.466,0.496,0.555,0.615,0.645,0.68,0.722,0.758,0.793,0.841,0.877,0.918,0.96],"range":["#ee2a2b","#f47c20","#fbb017","#fff11d","#c8dc36","#66b947","#63b94a","#6cc7a8","#45c0e8","#3a7cc0","#3b58a8","#4b4aa0","#8e4b9f","#c94d9e","#ee1b91","#ee1c3f"]}},"color":{"field":"v","type":"quantitative","scale":{"domain":[0.365,0.413,0.436,0.466,0.496,0.555,0.615,0.645,0.68,0.722,0.758,0.793,0.841,0.877,0.918,0.96],"range":["#ee2a2b","#f47c20","#fbb017","#fff11d","#c8dc36","#66b947","#63b94a","#6cc7a8","#45c0e8","#3a7cc0","#3b58a8","#4b4aa0","#8e4b9f","#c94d9e","#ee1b91","#ee1c3f"]},"legend":{"type":"gradient","title":null,"values":[0.4,0.5,0.6,0.7,0.8,0.9],"gradientLength":170,"gradientThickness":13,"offset":10,"labelOverlap":false}}}},
{"data":{"name":"bd1"},"mark":{"type":"area","interpolate":"step-after","color":"#979797"}},
{"data":{"name":"bd1"},"mark":{"type":"line","interpolate":"step-after","color":"#000","strokeWidth":1.5}},
{"data":{"name":"ci"},"transform":[{"filter":"datum.p=='c'"}],"mark":{"type":"point","filled":false,"strokeWidth":1,"strokeDash":[4,3],"opacity":1},"encoding":{"size":{"field":"s","type":"quantitative","scale":null},"stroke":{"field":"c","type":"nominal","scale":null}}},
{"data":{"name":"ar"},"transform":[{"filter":"datum.p=='c'"}],"mark":{"type":"rule","strokeWidth":1.3},"encoding":{"x2":{"field":"xe"},"y2":{"field":"ye"},"stroke":{"field":"c","type":"nominal","scale":null}}},
{"data":{"name":"hd"},"transform":[{"filter":"datum.p=='c'"}],"mark":{"type":"point","shape":"triangle-up","filled":true,"opacity":1,"size":50},"encoding":{"angle":{"field":"a","type":"quantitative","scale":null},"fill":{"field":"c","type":"nominal","scale":null}}},
{"data":{"name":"tx"},"transform":[{"filter":"datum.p=='c'"}],"mark":{"type":"text","fontSize":15,"font":"Liberation Serif"},"encoding":{"text":{"field":"t"},"fill":{"field":"c","type":"nominal","scale":null}}},
{"data":{"name":"le"},"transform":[{"filter":"datum.p=='c'"}],"mark":{"type":"text","fontSize":15,"fontStyle":"italic","font":"Liberation Serif","color":"#222"},"encoding":{"text":{"field":"t"}}}
],"resolve":{"scale":{"stroke":"independent"}}}
],"bounds":"flush","spacing":68,"resolve":{"scale":{"color":"independent"}}},
{"hconcat":[
{"width":171,"height":170,"encoding":{"x":{"field":"x","type":"quantitative","scale":{"domain":[1,30],"nice":false},"axis":{"title":"basic reproductive ratio, R₀","values":[10,20,30]}},"y":{"field":"y","type":"quantitative","scale":{"domain":[0,30],"nice":false},"axis":{"title":"infectious period, 1/ν (days)","values":[0,5,10,15,20,25,30]}}},"layer":[
{"data":{"name":"cd"},"mark":{"type":"rect","height":11.6,"clip":true,"strokeWidth":0.7},"encoding":{"x2":{"field":"e"},"stroke":{"field":"v","type":"quantitative","legend":null,"scale":{"domain":[0.46,1.51,2.04,2.69,3.35,4.66,5.98,6.64,7.42,8.34,9.13,9.92,10.97,11.76,12.68,13.6],"range":["#ee2a2b","#f47c20","#fbb017","#fff11d","#c8dc36","#66b947","#63b94a","#6cc7a8","#45c0e8","#3a7cc0","#3b58a8","#4b4aa0","#8e4b9f","#c94d9e","#ee1b91","#ee1c3f"]}},"color":{"field":"v","type":"quantitative","scale":{"domain":[0.46,1.51,2.04,2.69,3.35,4.66,5.98,6.64,7.42,8.34,9.13,9.92,10.97,11.76,12.68,13.6],"range":["#ee2a2b","#f47c20","#fbb017","#fff11d","#c8dc36","#66b947","#63b94a","#6cc7a8","#45c0e8","#3a7cc0","#3b58a8","#4b4aa0","#8e4b9f","#c94d9e","#ee1b91","#ee1c3f"]},"legend":{"type":"gradient","title":null,"values":[2,4,6,8,10,12],"gradientLength":170,"gradientThickness":13,"offset":9,"labelOverlap":false}}}},
{"data":{"name":"bd2"},"mark":{"type":"area","interpolate":"step-after","color":"#979797"}},
{"data":{"name":"bd2"},"mark":{"type":"line","interpolate":"step-after","color":"#000","strokeWidth":1.5}},
{"data":{"name":"ci"},"transform":[{"filter":"datum.p=='d'"}],"mark":{"type":"point","filled":false,"strokeWidth":1,"strokeDash":[4,3],"opacity":1},"encoding":{"size":{"field":"s","type":"quantitative","scale":null},"stroke":{"field":"c","type":"nominal","scale":null}}},
{"data":{"name":"ar"},"transform":[{"filter":"datum.p=='d'"}],"mark":{"type":"rule","strokeWidth":1.3},"encoding":{"x2":{"field":"xe"},"y2":{"field":"ye"},"stroke":{"field":"c","type":"nominal","scale":null}}},
{"data":{"name":"hd"},"transform":[{"filter":"datum.p=='d'"}],"mark":{"type":"point","shape":"triangle-up","filled":true,"opacity":1,"size":50},"encoding":{"angle":{"field":"a","type":"quantitative","scale":null},"fill":{"field":"c","type":"nominal","scale":null}}},
{"data":{"name":"tx"},"transform":[{"filter":"datum.p=='d'"}],"mark":{"type":"text","fontSize":15,"font":"Liberation Serif"},"encoding":{"text":{"field":"t"},"fill":{"field":"c","type":"nominal","scale":null}}},
{"data":{"name":"le"},"transform":[{"filter":"datum.p=='d'"}],"mark":{"type":"text","fontSize":15,"fontStyle":"italic","font":"Liberation Serif","color":"#222"},"encoding":{"text":{"field":"t"}}}
],"resolve":{"scale":{"stroke":"independent"}}},
{"width":169,"height":170,"encoding":{"x":{"field":"x","type":"quantitative","scale":{"domain":[1,30],"nice":false},"axis":{"title":"basic reproductive ratio, R₀","values":[10,20,30]}},"y":{"field":"y","type":"quantitative","scale":{"domain":[0,30],"nice":false},"axis":null}},"layer":[
{"data":{"name":"ce"},"mark":{"type":"rect","height":11.6,"clip":true,"strokeWidth":0.7},"encoding":{"x2":{"field":"e"},"stroke":{"field":"v","type":"quantitative","legend":null,"scale":{"domain":[0.06,0.128,0.162,0.205,0.247,0.332,0.417,0.46,0.51,0.57,0.621,0.672,0.74,0.791,0.851,0.91],"range":["#ee2a2b","#f47c20","#fbb017","#fff11d","#c8dc36","#66b947","#63b94a","#6cc7a8","#45c0e8","#3a7cc0","#3b58a8","#4b4aa0","#8e4b9f","#c94d9e","#ee1b91","#ee1c3f"]}},"color":{"field":"v","type":"quantitative","scale":{"domain":[0.06,0.128,0.162,0.205,0.247,0.332,0.417,0.46,0.51,0.57,0.621,0.672,0.74,0.791,0.851,0.91],"range":["#ee2a2b","#f47c20","#fbb017","#fff11d","#c8dc36","#66b947","#63b94a","#6cc7a8","#45c0e8","#3a7cc0","#3b58a8","#4b4aa0","#8e4b9f","#c94d9e","#ee1b91","#ee1c3f"]},"legend":{"type":"gradient","title":null,"values":[0.2,0.4,0.6,0.8],"gradientLength":170,"gradientThickness":13,"offset":10,"labelOverlap":false}}}},
{"data":{"name":"bd2"},"mark":{"type":"area","interpolate":"step-after","color":"#979797"}},
{"data":{"name":"bd2"},"mark":{"type":"line","interpolate":"step-after","color":"#000","strokeWidth":1.5}},
{"data":{"name":"ci"},"transform":[{"filter":"datum.p=='e'"}],"mark":{"type":"point","filled":false,"strokeWidth":1,"strokeDash":[4,3],"opacity":1},"encoding":{"size":{"field":"s","type":"quantitative","scale":null},"stroke":{"field":"c","type":"nominal","scale":null}}},
{"data":{"name":"ar"},"transform":[{"filter":"datum.p=='e'"}],"mark":{"type":"rule","strokeWidth":1.3},"encoding":{"x2":{"field":"xe"},"y2":{"field":"ye"},"stroke":{"field":"c","type":"nominal","scale":null}}},
{"data":{"name":"hd"},"transform":[{"filter":"datum.p=='e'"}],"mark":{"type":"point","shape":"triangle-up","filled":true,"opacity":1,"size":50},"encoding":{"angle":{"field":"a","type":"quantitative","scale":null},"fill":{"field":"c","type":"nominal","scale":null}}},
{"data":{"name":"tx"},"transform":[{"filter":"datum.p=='e'"}],"mark":{"type":"text","fontSize":15,"font":"Liberation Serif"},"encoding":{"text":{"field":"t"},"fill":{"field":"c","type":"nominal","scale":null}}},
{"data":{"name":"le"},"transform":[{"filter":"datum.p=='e'"}],"mark":{"type":"text","fontSize":15,"fontStyle":"italic","font":"Liberation Serif","color":"#222"},"encoding":{"text":{"field":"t"}}}
],"resolve":{"scale":{"stroke":"independent"}}},
{"width":168,"height":170,"encoding":{"x":{"field":"x","type":"quantitative","scale":{"domain":[1,30],"nice":false},"axis":{"title":"basic reproductive ratio, R₀","values":[10,20,30]}},"y":{"field":"y","type":"quantitative","scale":{"domain":[0,30],"nice":false},"axis":null}},"layer":[
{"data":{"name":"cf"},"mark":{"type":"rect","height":11.6,"clip":true,"strokeWidth":0.7},"encoding":{"x2":{"field":"e"},"stroke":{"field":"v","type":"quantitative","legend":null,"scale":{"domain":[0.365,0.413,0.436,0.466,0.496,0.555,0.615,0.645,0.68,0.722,0.758,0.793,0.841,0.877,0.918,0.96],"range":["#ee2a2b","#f47c20","#fbb017","#fff11d","#c8dc36","#66b947","#63b94a","#6cc7a8","#45c0e8","#3a7cc0","#3b58a8","#4b4aa0","#8e4b9f","#c94d9e","#ee1b91","#ee1c3f"]}},"color":{"field":"v","type":"quantitative","scale":{"domain":[0.365,0.413,0.436,0.466,0.496,0.555,0.615,0.645,0.68,0.722,0.758,0.793,0.841,0.877,0.918,0.96],"range":["#ee2a2b","#f47c20","#fbb017","#fff11d","#c8dc36","#66b947","#63b94a","#6cc7a8","#45c0e8","#3a7cc0","#3b58a8","#4b4aa0","#8e4b9f","#c94d9e","#ee1b91","#ee1c3f"]},"legend":{"type":"gradient","title":null,"values":[0.4,0.5,0.6,0.7,0.8,0.9],"gradientLength":170,"gradientThickness":13,"offset":10,"labelOverlap":false}}}},
{"data":{"name":"bd2"},"mark":{"type":"area","interpolate":"step-after","color":"#979797"}},
{"data":{"name":"bd2"},"mark":{"type":"line","interpolate":"step-after","color":"#000","strokeWidth":1.5}},
{"data":{"name":"ci"},"transform":[{"filter":"datum.p=='f'"}],"mark":{"type":"point","filled":false,"strokeWidth":1,"strokeDash":[4,3],"opacity":1},"encoding":{"size":{"field":"s","type":"quantitative","scale":null},"stroke":{"field":"c","type":"nominal","scale":null}}},
{"data":{"name":"ar"},"transform":[{"filter":"datum.p=='f'"}],"mark":{"type":"rule","strokeWidth":1.3},"encoding":{"x2":{"field":"xe"},"y2":{"field":"ye"},"stroke":{"field":"c","type":"nominal","scale":null}}},
{"data":{"name":"hd"},"transform":[{"filter":"datum.p=='f'"}],"mark":{"type":"point","shape":"triangle-up","filled":true,"opacity":1,"size":50},"encoding":{"angle":{"field":"a","type":"quantitative","scale":null},"fill":{"field":"c","type":"nominal","scale":null}}},
{"data":{"name":"tx"},"transform":[{"filter":"datum.p=='f'"}],"mark":{"type":"text","fontSize":15,"font":"Liberation Serif"},"encoding":{"text":{"field":"t"},"fill":{"field":"c","type":"nominal","scale":null}}},
{"data":{"name":"le"},"transform":[{"filter":"datum.p=='f'"}],"mark":{"type":"text","fontSize":15,"fontStyle":"italic","font":"Liberation Serif","color":"#222"},"encoding":{"text":{"field":"t"}}}
],"resolve":{"scale":{"stroke":"independent"}}}
],"bounds":"flush","spacing":68,"resolve":{"scale":{"color":"independent"}}},
{"hconcat":[
{"width":44,"height":170,"data":{"values":[{"x":0}]},"mark":{"type":"point","opacity":0},"encoding":{}},
{"width":171,"height":170,"encoding":{"x":{"field":"x","type":"quantitative","scale":{"domain":[1,30],"nice":false},"axis":{"title":"basic reproductive ratio, R₀","values":[10,20,30]}},"y":{"field":"y","type":"quantitative","scale":{"domain":[0,30],"nice":false},"axis":{"title":"infectious period, 1/ν (days)","values":[0,5,10,15,20,25,30]}}},"layer":[
{"data":{"name":"g"},"mark":{"type":"rect","clip":true},"encoding":{"x2":{"field":"e"},"y2":{"field":"t"},"color":{"field":"v","type":"quantitative","scale":{"domain":[0.46,1.51,2.04,2.69,3.35,4.66,5.98,6.64,7.42,8.34,9.13,9.92,10.97,11.76,12.68,13.6],"range":["#ee2a2b","#f47c20","#fbb017","#fff11d","#c8dc36","#66b947","#63b94a","#6cc7a8","#45c0e8","#3a7cc0","#3b58a8","#4b4aa0","#8e4b9f","#c94d9e","#ee1b91","#ee1c3f"]},"legend":{"type":"gradient","title":null,"values":[2,4,6,8,10,12],"gradientLength":170,"gradientThickness":13,"offset":10,"labelOverlap":false}}}},
{"data":{"name":"bd1"},"mark":{"type":"area","interpolate":"step-after","color":"#979797"}},
{"data":{"name":"bd1"},"mark":{"type":"line","interpolate":"step-after","color":"#000","strokeWidth":1.5}},
{"data":{"name":"ci"},"transform":[{"filter":"datum.p=='g'"}],"mark":{"type":"point","filled":false,"strokeWidth":1,"strokeDash":[4,3],"opacity":1},"encoding":{"size":{"field":"s","type":"quantitative","scale":null},"stroke":{"field":"c","type":"nominal","scale":null}}},
{"data":{"name":"ar"},"transform":[{"filter":"datum.p=='g'"}],"mark":{"type":"rule","strokeWidth":1.3},"encoding":{"x2":{"field":"xe"},"y2":{"field":"ye"},"stroke":{"field":"c","type":"nominal","scale":null}}},
{"data":{"name":"hd"},"transform":[{"filter":"datum.p=='g'"}],"mark":{"type":"point","shape":"triangle-up","filled":true,"opacity":1,"size":50},"encoding":{"angle":{"field":"a","type":"quantitative","scale":null},"fill":{"field":"c","type":"nominal","scale":null}}},
{"data":{"name":"tx"},"transform":[{"filter":"datum.p=='g'"}],"mark":{"type":"text","fontSize":15,"font":"Liberation Serif"},"encoding":{"text":{"field":"t"},"fill":{"field":"c","type":"nominal","scale":null}}},
{"data":{"name":"le"},"transform":[{"filter":"datum.p=='g'"}],"mark":{"type":"text","fontSize":15,"fontStyle":"italic","font":"Liberation Serif","color":"#222"},"encoding":{"text":{"field":"t"}}}
]},
{"width":169,"height":170,"encoding":{"x":{"field":"x","type":"quantitative","scale":{"domain":[1,30],"nice":false},"axis":{"title":"basic reproductive ratio, R₀","values":[10,20,30]}},"y":{"field":"y","type":"quantitative","scale":{"domain":[0,30],"nice":false},"axis":null}},"layer":[
{"data":{"name":"h"},"mark":{"type":"rect","clip":true},"encoding":{"x2":{"field":"e"},"y2":{"field":"t"},"color":{"field":"v","type":"quantitative","scale":{"domain":[0.46,1.51,2.04,2.69,3.35,4.66,5.98,6.64,7.42,8.34,9.13,9.92,10.97,11.76,12.68,13.6],"range":["#ee2a2b","#f47c20","#fbb017","#fff11d","#c8dc36","#66b947","#63b94a","#6cc7a8","#45c0e8","#3a7cc0","#3b58a8","#4b4aa0","#8e4b9f","#c94d9e","#ee1b91","#ee1c3f"]},"legend":{"type":"gradient","title":null,"values":[2,4,6,8,10,12],"gradientLength":170,"gradientThickness":13,"offset":10,"labelOverlap":false}}}},
{"data":{"name":"bd2"},"mark":{"type":"area","interpolate":"step-after","color":"#979797"}},
{"data":{"name":"bd2"},"mark":{"type":"line","interpolate":"step-after","color":"#000","strokeWidth":1.5}},
{"data":{"name":"ci"},"transform":[{"filter":"datum.p=='h'"}],"mark":{"type":"point","filled":false,"strokeWidth":1,"strokeDash":[4,3],"opacity":1},"encoding":{"size":{"field":"s","type":"quantitative","scale":null},"stroke":{"field":"c","type":"nominal","scale":null}}},
{"data":{"name":"ar"},"transform":[{"filter":"datum.p=='h'"}],"mark":{"type":"rule","strokeWidth":1.3},"encoding":{"x2":{"field":"xe"},"y2":{"field":"ye"},"stroke":{"field":"c","type":"nominal","scale":null}}},
{"data":{"name":"hd"},"transform":[{"filter":"datum.p=='h'"}],"mark":{"type":"point","shape":"triangle-up","filled":true,"opacity":1,"size":50},"encoding":{"angle":{"field":"a","type":"quantitative","scale":null},"fill":{"field":"c","type":"nominal","scale":null}}},
{"data":{"name":"tx"},"transform":[{"filter":"datum.p=='h'"}],"mark":{"type":"text","fontSize":15,"font":"Liberation Serif"},"encoding":{"text":{"field":"t"},"fill":{"field":"c","type":"nominal","scale":null}}},
{"data":{"name":"le"},"transform":[{"filter":"datum.p=='h'"}],"mark":{"type":"text","fontSize":15,"fontStyle":"italic","font":"Liberation Serif","color":"#222"},"encoding":{"text":{"field":"t"}}}
]}
],"bounds":"flush","spacing":83,"resolve":{"scale":{"color":"independent"}}}
],"spacing":6,"resolve":{"scale":{"color":"independent"}}}
